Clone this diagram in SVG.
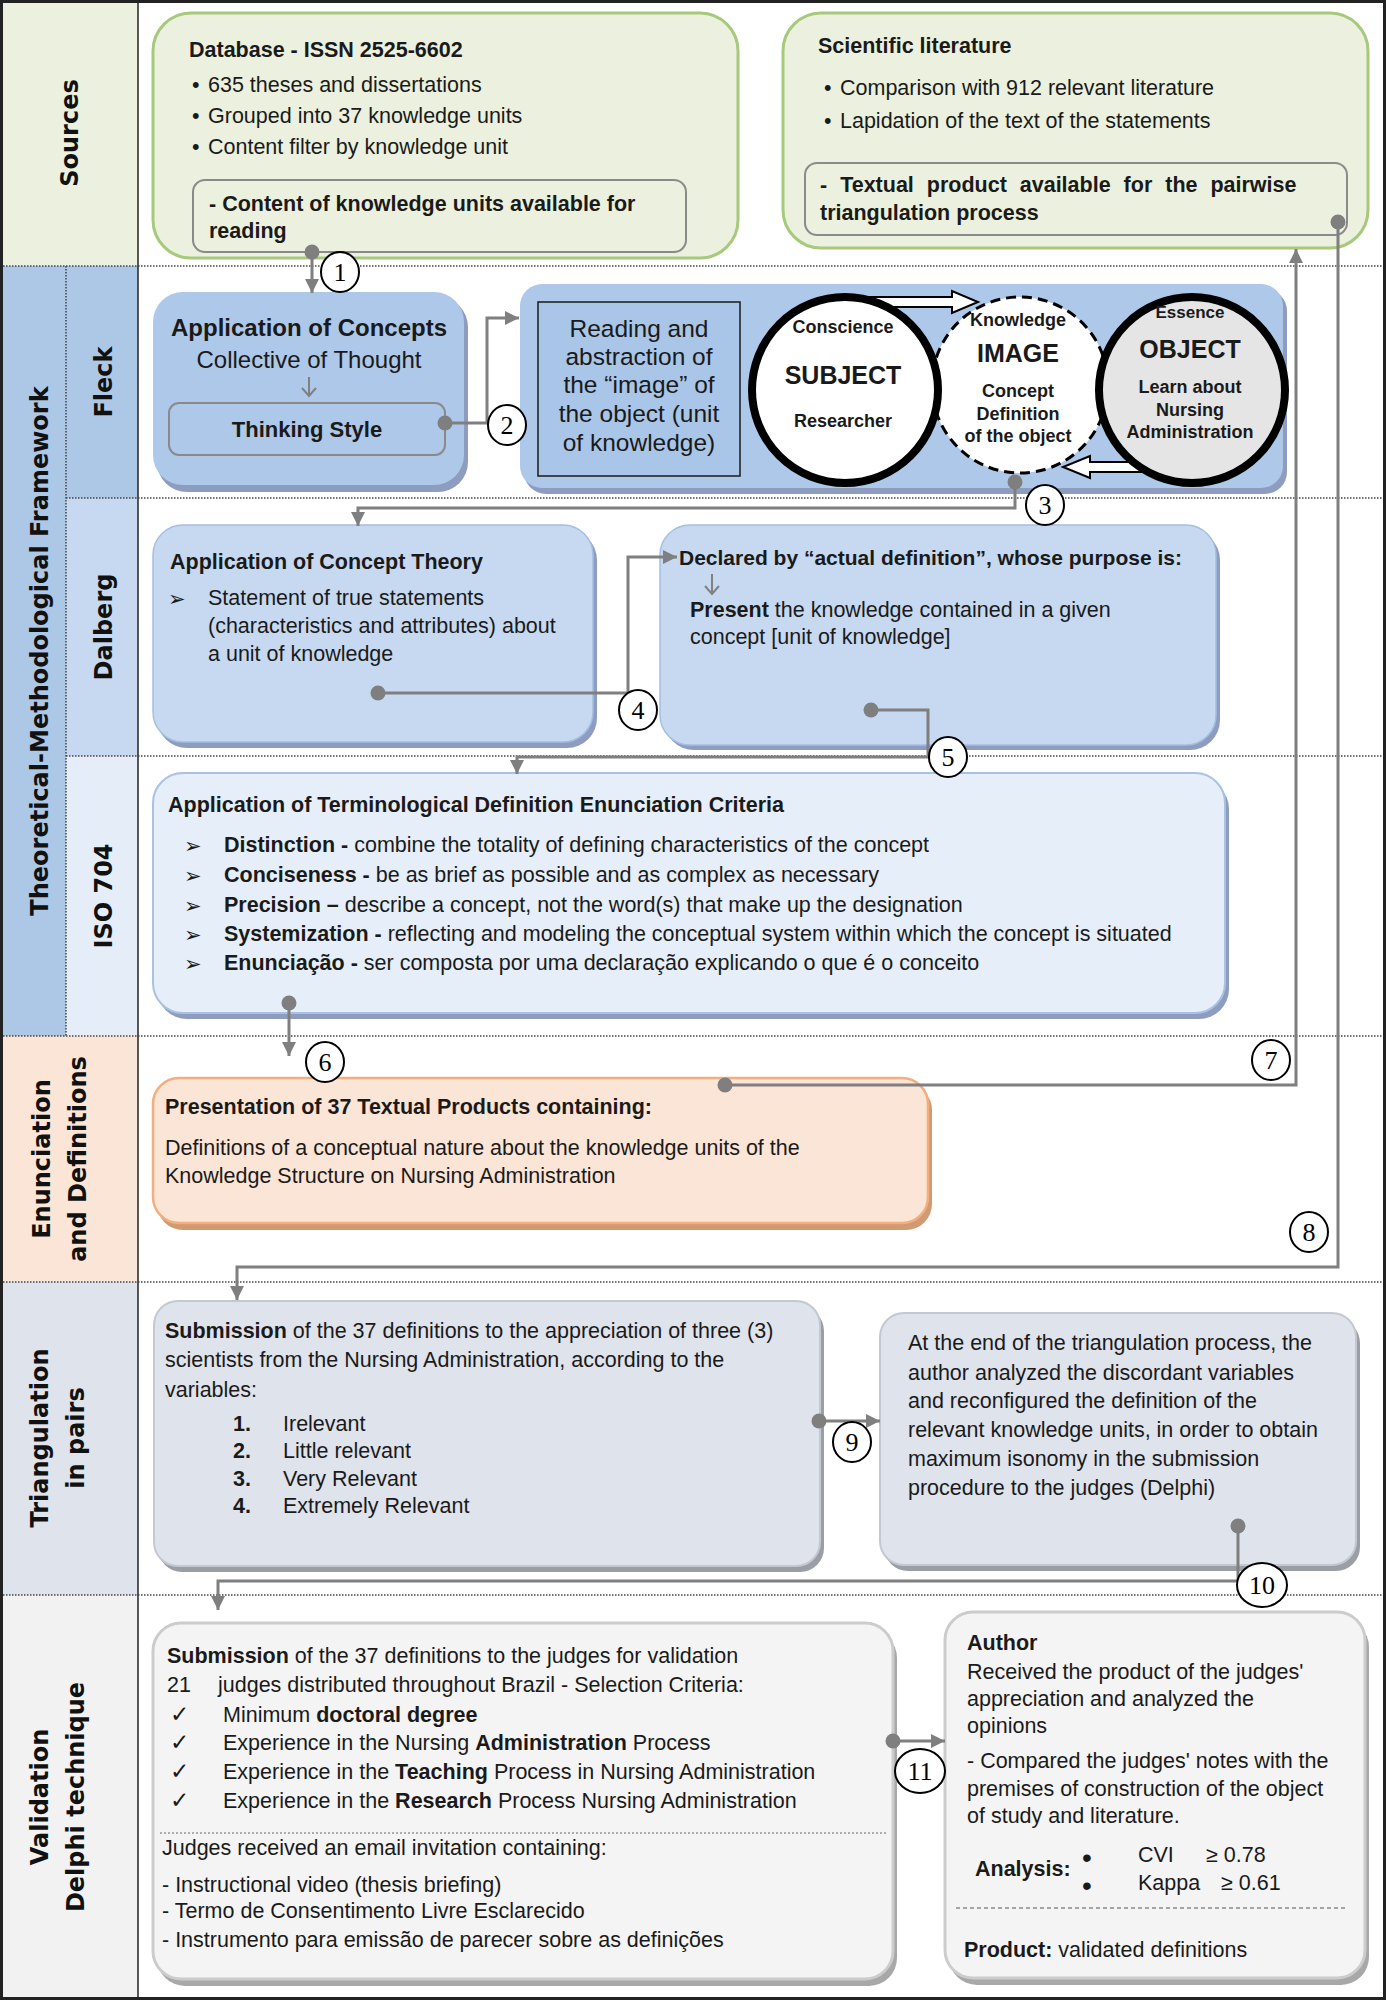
<svg xmlns="http://www.w3.org/2000/svg" width="1386" height="2000" viewBox="0 0 1386 2000">
<defs>
<style>
.t{font-family:"Liberation Sans",Arial,sans-serif;font-size:21.5px;fill:#1a1a1a}
.b{font-weight:bold}
.c{text-anchor:middle}
.lab{font-family:"DejaVu Sans",Verdana,sans-serif;font-weight:bold;font-size:24px;fill:#111;text-anchor:middle}
.num{font-family:"Liberation Serif","Times New Roman",serif;font-size:26px;text-anchor:middle;fill:#000}
.sym{font-family:"DejaVu Sans",sans-serif;fill:#1a1a1a}
.conn{fill:none;stroke:#7f7f7f;stroke-width:3}
.dot{fill:#7f7f7f}
.badge{fill:#fff;stroke:#000;stroke-width:2}
.div{stroke:#444;stroke-width:1.5;stroke-dasharray:1.5 1.5;fill:none}
.inner{fill:none;stroke:#8a8a8a;stroke-width:2}
.green{fill:#ebf1de;stroke:#a6c97c;stroke-width:3}
.fleck{fill:#adc8e9}
.fsh{fill:#8e9dbf}
.dal{fill:#c6d9f1;stroke:#a4bfe2;stroke-width:1.5}
.iso{fill:#e5eef9;stroke:#a8c2e4;stroke-width:2}
.enu{fill:#fbe5d6;stroke:#f3ae7e;stroke-width:2.5}
.esh{fill:#d19a72}
.tri{fill:#dfe3ec;stroke:#c4c8d0;stroke-width:2}
.tsh{fill:#9b9ea5}
.val{fill:#f4f4f4;stroke:#cccccc;stroke-width:3}
.vsh{fill:#a8a8a8}
.blk{fill:#fff;stroke:#000;stroke-width:2}
</style>
<marker id="ah" markerWidth="16" markerHeight="16" refX="14" refY="7" orient="auto" markerUnits="userSpaceOnUse"><path d="M0,0 L14,7 L0,14 z" fill="#7f7f7f"/></marker>
</defs>
<rect width="1386" height="2000" fill="#fff"/>

<!-- sidebar -->
<g id="sidebar">
<rect x="0" y="0" width="138" height="266" fill="#ebf1de"/>
<rect x="0" y="266" width="66" height="770" fill="#adc7e7"/>
<rect x="66" y="266" width="72" height="232" fill="#adc7e7"/>
<rect x="66" y="498" width="72" height="258" fill="#c6d9f1"/>
<rect x="66" y="756" width="72" height="280" fill="#e4edf8"/>
<rect x="0" y="1036" width="138" height="246" fill="#fbe5d6"/>
<rect x="0" y="1282" width="138" height="313" fill="#dfe3ec"/>
<rect x="0" y="1595" width="138" height="405" fill="#f2f2f2"/>
<text class="lab" transform="translate(78,133) rotate(-90)">Sources</text>
<text class="lab" transform="translate(48,651) rotate(-90)">Theoretical-Methodological Framework</text>
<text class="lab" transform="translate(112,382) rotate(-90)">Fleck</text>
<text class="lab" transform="translate(112,627) rotate(-90)">Dalberg</text>
<text class="lab" transform="translate(112,896) rotate(-90)">ISO 704</text>
<text class="lab" transform="translate(50,1159) rotate(-90)">Enunciation</text>
<text class="lab" transform="translate(86,1159) rotate(-90)">and Definitions</text>
<text class="lab" transform="translate(48,1438) rotate(-90)">Triangulation</text>
<text class="lab" transform="translate(84,1438) rotate(-90)">in pairs</text>
<text class="lab" transform="translate(48,1797) rotate(-90)">Validation</text>
<text class="lab" transform="translate(84,1797) rotate(-90)">Delphi technique</text>
</g>

<g id="grid">
<line x1="138" y1="0" x2="138" y2="2000" stroke="#222" stroke-width="1.5"/>
<line class="div" x1="66" y1="266" x2="66" y2="1036"/>
<line class="div" x1="0" y1="266" x2="1386" y2="266"/>
<line class="div" x1="66" y1="498" x2="1386" y2="498"/>
<line class="div" x1="66" y1="756" x2="1386" y2="756"/>
<line class="div" x1="0" y1="1036" x2="1386" y2="1036"/>
<line class="div" x1="0" y1="1282" x2="1386" y2="1282"/>
<line class="div" x1="0" y1="1595" x2="1386" y2="1595"/>
</g>

<!-- Sources -->
<g id="database">
<rect class="green" x="153" y="13" width="585" height="245" rx="38"/>
<text class="t b" x="189" y="57">Database - ISSN 2525-6602</text>
<text class="t" x="192" y="92">•</text><text class="t" x="208" y="92">635 theses and dissertations</text>
<text class="t" x="192" y="123">•</text><text class="t" x="208" y="123">Grouped into 37 knowledge units</text>
<text class="t" x="192" y="154">•</text><text class="t" x="208" y="154">Content filter by knowledge unit</text>
<rect class="inner" x="193" y="180" width="493" height="72" rx="12"/>
<text class="t b" x="209" y="211">- Content of knowledge units available for</text>
<text class="t b" x="209" y="238">reading</text>
</g>

<g id="literature">
<rect class="green" x="783" y="13" width="585" height="235" rx="38"/>
<text class="t b" x="818" y="53">Scientific literature</text>
<text class="t" x="824" y="95">•</text><text class="t" x="840" y="95">Comparison with 912 relevant literature</text>
<text class="t" x="824" y="128">•</text><text class="t" x="840" y="128">Lapidation of the text of the statements</text>
<rect class="inner" x="805" y="163" width="542" height="72" rx="12"/>
<text class="t b" x="820" y="192" word-spacing="7">- Textual product available for the pairwise</text>
<text class="t b" x="820" y="220">triangulation process</text>
</g>

<!-- Fleck -->
<g id="application-concepts">
<rect class="fsh" x="157" y="297" width="311" height="195" rx="30"/>
<rect class="fleck" x="153" y="292" width="311" height="193" rx="30"/>
<text class="t b c" x="309" y="336" style="font-size:24px">Application of Concepts</text>
<text class="t c" x="309" y="368" style="font-size:24px">Collective of Thought</text>
<path d="M309,377 V396 M302,388 L309,396 L316,388" fill="none" stroke="#808080" stroke-width="2"/>
<rect class="inner" x="169" y="403" width="276" height="52" rx="10"/>
<text class="t b c" x="307" y="437" style="font-size:22px">Thinking Style</text>
</g>

<g id="reading-box">
<rect class="fsh" x="524" y="289" width="763" height="205" rx="22"/>
<rect class="fleck" x="520" y="284" width="763" height="204" rx="22"/>
<rect x="538" y="302" width="202" height="174" fill="#a9c5e7" stroke="#1a1a1a" stroke-width="1.5"/>
<text class="t c" x="639" y="337" style="font-size:24.5px">Reading and</text>
<text class="t c" x="639" y="365" style="font-size:24.5px">abstraction of</text>
<text class="t c" x="639" y="393" style="font-size:24.5px">the “image” of</text>
<text class="t c" x="639" y="422" style="font-size:24.5px">the object (unit</text>
<text class="t c" x="639" y="451" style="font-size:24.5px">of knowledge)</text>
</g>

<g id="image-circle">
<circle cx="1020" cy="385" r="88" fill="#fff" stroke="#000" stroke-width="3" stroke-dasharray="10 6"/>
<text class="t b c" x="1018" y="326" style="font-size:18px">Knowledge</text>
<text class="t b c" x="1018" y="362" style="font-size:25px">IMAGE</text>
<text class="t b c" x="1018" y="397" style="font-size:18px">Concept</text>
<text class="t b c" x="1018" y="420" style="font-size:18px">Definition</text>
<text class="t b c" x="1018" y="442" style="font-size:18px">of the object</text>
</g>

<g id="block-arrows">
<path class="blk" d="M870,297 H952 V291 L978,302 L952,313 V307 H870 Z"/>
<path class="blk" d="M1160,462 H1090 V456 L1063,467 L1090,478 V472 H1160 Z"/>
</g>

<g id="subject-circle">
<circle cx="845" cy="390" r="93" fill="#fff" stroke="#000" stroke-width="8"/>
<text class="t b c" x="843" y="333" style="font-size:18px">Conscience</text>
<text class="t b c" x="843" y="384" style="font-size:25px">SUBJECT</text>
<text class="t b c" x="843" y="427" style="font-size:18px">Researcher</text>
</g>

<g id="object-circle">
<circle cx="1192" cy="390" r="93" fill="#e5e5e5" stroke="#000" stroke-width="8"/>
<text class="t b c" x="1190" y="318" style="font-size:17px">Essence</text>
<text class="t b c" x="1190" y="358" style="font-size:25px">OBJECT</text>
<text class="t b c" x="1190" y="393" style="font-size:18px">Learn about</text>
<text class="t b c" x="1190" y="416" style="font-size:18px">Nursing</text>
<text class="t b c" x="1190" y="438" style="font-size:18px">Administration</text>
</g>

<!-- Dalberg -->
<g id="concept-theory">
<rect class="fsh" x="157" y="530" width="440" height="218" rx="30"/>
<rect class="dal" x="153" y="525" width="440" height="217" rx="30"/>
<text class="t b" x="170" y="569">Application of Concept Theory</text>
<text class="sym" x="168" y="606" style="font-size:21px">➢</text>
<text class="t" x="208" y="605">Statement of true statements</text>
<text class="t" x="208" y="633">(characteristics and attributes) about</text>
<text class="t" x="208" y="661">a unit of knowledge</text>
</g>

<g id="actual-definition">
<rect class="fsh" x="664" y="530" width="556" height="220" rx="30"/>
<rect class="dal" x="660" y="525" width="556" height="220" rx="30"/>
<text class="t b" x="679" y="565" style="font-size:21px">Declared by “actual definition”, whose purpose is:</text>
<path d="M712,574 V594 M705,586 L712,594 L719,586" fill="none" stroke="#808080" stroke-width="2"/>
<text class="t" x="690" y="617"><tspan class="b">Present</tspan> the knowledge contained in a given</text>
<text class="t" x="690" y="644">concept [unit of knowledge]</text>
</g>

<!-- ISO 704 -->
<g id="iso-criteria">
<rect class="fsh" x="157" y="779" width="1072" height="240" rx="30"/>
<rect class="iso" x="153" y="773" width="1072" height="240" rx="30"/>
<text class="t b" x="168" y="812">Application of Terminological Definition Enunciation Criteria</text>
<text class="sym" x="184" y="853" style="font-size:21px">➢</text>
<text class="t" x="224" y="852"><tspan class="b">Distinction -</tspan> combine the totality of defining characteristics of the concept</text>
<text class="sym" x="184" y="883" style="font-size:21px">➢</text>
<text class="t" x="224" y="882"><tspan class="b">Conciseness -</tspan> be as brief as possible and as complex as necessary</text>
<text class="sym" x="184" y="913" style="font-size:21px">➢</text>
<text class="t" x="224" y="912"><tspan class="b">Precision –</tspan> describe a concept, not the word(s) that make up the designation</text>
<text class="sym" x="184" y="942" style="font-size:21px">➢</text>
<text class="t" x="224" y="941"><tspan class="b">Systemization -</tspan> reflecting and modeling the conceptual system within which the concept is situated</text>
<text class="sym" x="184" y="971" style="font-size:21px">➢</text>
<text class="t" x="224" y="970"><tspan class="b">Enunciação -</tspan> ser composta por uma declaração explicando o que é o conceito</text>
</g>

<!-- Enunciation -->
<g id="presentation">
<rect class="esh" x="157" y="1084" width="775" height="146" rx="26"/>
<rect class="enu" x="153" y="1078" width="775" height="145" rx="26"/>
<text class="t b" x="165" y="1114">Presentation of 37 Textual Products containing:</text>
<text class="t" x="165" y="1155">Definitions of a conceptual nature about the knowledge units of the</text>
<text class="t" x="165" y="1183">Knowledge Structure on Nursing Administration</text>
</g>

<!-- Triangulation -->
<g id="submission-pairs">
<rect class="tsh" x="158" y="1307" width="666" height="265" rx="24"/>
<rect class="tri" x="154" y="1301" width="666" height="265" rx="24"/>
<text class="t" x="165" y="1338"><tspan class="b">Submission</tspan> of the 37 definitions to the appreciation of three (3)</text>
<text class="t" x="165" y="1367">scientists from the Nursing Administration, according to the</text>
<text class="t" x="165" y="1397">variables:</text>
<text class="t b" x="233" y="1431">1.</text><text class="t" x="283" y="1431">Irelevant</text>
<text class="t b" x="233" y="1458">2.</text><text class="t" x="283" y="1458">Little relevant</text>
<text class="t b" x="233" y="1486">3.</text><text class="t" x="283" y="1486">Very Relevant</text>
<text class="t b" x="233" y="1513">4.</text><text class="t" x="283" y="1513">Extremely Relevant</text>
</g>

<g id="triangulation-end">
<rect class="tsh" x="884" y="1319" width="476" height="252" rx="24"/>
<rect class="tri" x="880" y="1313" width="476" height="252" rx="24"/>
<text class="t" x="908" y="1350">At the end of the triangulation process, the</text>
<text class="t" x="908" y="1380">author analyzed the discordant variables</text>
<text class="t" x="908" y="1408">and reconfigured the definition of the</text>
<text class="t" x="908" y="1437">relevant knowledge units, in order to obtain</text>
<text class="t" x="908" y="1466">maximum isonomy in the submission</text>
<text class="t" x="908" y="1495">procedure to the judges (Delphi)</text>
</g>

<!-- Validation -->
<g id="submission-judges">
<rect class="vsh" x="157" y="1630" width="740" height="356" rx="28"/>
<rect class="val" x="153" y="1623" width="740" height="356" rx="28"/>
<text class="t" x="167" y="1663"><tspan class="b">Submission</tspan> of the 37 definitions to the judges for validation</text>
<text class="t" x="167" y="1692">21</text><text class="t" x="218" y="1692">judges distributed throughout Brazil - Selection Criteria:</text>
<text class="sym" x="170" y="1722" style="font-size:23px">✓</text><text class="t" x="223" y="1722">Minimum <tspan class="b">doctoral degree</tspan></text>
<text class="sym" x="170" y="1750" style="font-size:23px">✓</text><text class="t" x="223" y="1750">Experience in the Nursing <tspan class="b">Administration</tspan> Process</text>
<text class="sym" x="170" y="1779" style="font-size:23px">✓</text><text class="t" x="223" y="1779">Experience in the <tspan class="b">Teaching</tspan> Process in Nursing Administration</text>
<text class="sym" x="170" y="1808" style="font-size:23px">✓</text><text class="t" x="223" y="1808">Experience in the <tspan class="b">Research</tspan> Process Nursing Administration</text>
<line x1="160" y1="1833" x2="888" y2="1833" stroke="#666" stroke-width="1.2" stroke-dasharray="2 2"/>
<text class="t" x="162" y="1855">Judges received an email invitation containing:</text>
<text class="t" x="162" y="1892">- Instructional video (thesis briefing)</text>
<text class="t" x="162" y="1918">- Termo de Consentimento Livre Esclarecido</text>
<text class="t" x="162" y="1947">- Instrumento para emissão de parecer sobre as definições</text>
</g>

<g id="author">
<rect class="vsh" x="949" y="1619" width="420" height="366" rx="28"/>
<rect class="val" x="945" y="1612" width="420" height="366" rx="28"/>
<text class="t b" x="967" y="1650">Author</text>
<text class="t" x="967" y="1679">Received the product of the judges'</text>
<text class="t" x="967" y="1706">appreciation and analyzed the</text>
<text class="t" x="967" y="1733">opinions</text>
<text class="t" x="967" y="1768">- Compared the judges' notes with the</text>
<text class="t" x="967" y="1796">premises of construction of the object</text>
<text class="t" x="967" y="1823">of study and literature.</text>
<text class="t b" x="975" y="1876">Analysis:</text>
<text class="t" x="1082" y="1867" style="font-size:28px">•</text><text class="t" x="1138" y="1862">CVI</text><text class="t" x="1206" y="1862">≥ 0.78</text>
<text class="t" x="1082" y="1895" style="font-size:28px">•</text><text class="t" x="1138" y="1890">Kappa</text><text class="t" x="1221" y="1890">≥ 0.61</text>
<line x1="956" y1="1908" x2="1347" y2="1908" stroke="#555" stroke-width="1.2" stroke-dasharray="4 3"/>
<text class="t" x="964" y="1957"><tspan class="b">Product:</tspan> validated definitions</text>
</g>

<!-- connectors -->
<g id="connectors">
<path class="conn" d="M312,252 V293" marker-end="url(#ah)"/>
<path class="conn" d="M445,423 H487 V318 H519" marker-end="url(#ah)"/>
<path class="conn" d="M1015,482 V508 H358 V526" marker-end="url(#ah)"/>
<path class="conn" d="M378,693 H628 V557 H677" marker-end="url(#ah)"/>
<path class="conn" d="M871,710 H928 V757 H517 V774" marker-end="url(#ah)"/>
<path class="conn" d="M289,1003 V1056" marker-end="url(#ah)"/>
<path class="conn" d="M725,1085 H1296 V249" marker-end="url(#ah)"/>
<path class="conn" d="M1338,222 V1267 H237 V1300" marker-end="url(#ah)"/>
<path class="conn" d="M819,1421 H880" marker-end="url(#ah)"/>
<path class="conn" d="M1238,1526 V1581 H218 V1610" marker-end="url(#ah)"/>
<path class="conn" d="M893,1741 H945" marker-end="url(#ah)"/>
<circle class="dot" cx="312" cy="252" r="7.5"/>
<circle class="dot" cx="445" cy="423" r="7.5"/>
<circle class="dot" cx="1015" cy="482" r="7.5"/>
<circle class="dot" cx="378" cy="693" r="7.5"/>
<circle class="dot" cx="871" cy="710" r="7.5"/>
<circle class="dot" cx="289" cy="1003" r="7.5"/>
<circle class="dot" cx="725" cy="1085" r="7.5"/>
<circle class="dot" cx="1338" cy="222" r="7.5"/>
<circle class="dot" cx="819" cy="1421" r="7.5"/>
<circle class="dot" cx="1238" cy="1526" r="7.5"/>
<circle class="dot" cx="893" cy="1741" r="7.5"/>
</g>

<g id="badges">
<ellipse class="badge" cx="340" cy="272" rx="19" ry="20"/><text class="num" x="340" y="281">1</text>
<ellipse class="badge" cx="507" cy="425" rx="19" ry="20"/><text class="num" x="507" y="434">2</text>
<ellipse class="badge" cx="1045" cy="505" rx="19" ry="20"/><text class="num" x="1045" y="514">3</text>
<ellipse class="badge" cx="638" cy="710" rx="19" ry="20"/><text class="num" x="638" y="719">4</text>
<ellipse class="badge" cx="948" cy="757" rx="19" ry="20"/><text class="num" x="948" y="766">5</text>
<ellipse class="badge" cx="325" cy="1062" rx="19" ry="20"/><text class="num" x="325" y="1071">6</text>
<ellipse class="badge" cx="1271" cy="1060" rx="19" ry="20"/><text class="num" x="1271" y="1069">7</text>
<ellipse class="badge" cx="1309" cy="1232" rx="19" ry="20"/><text class="num" x="1309" y="1241">8</text>
<ellipse class="badge" cx="852" cy="1442" rx="19" ry="20"/><text class="num" x="852" y="1451">9</text>
<ellipse class="badge" cx="1262" cy="1585" rx="25" ry="22"/><text class="num" x="1262" y="1594">10</text>
<ellipse class="badge" cx="920" cy="1771" rx="25" ry="22"/><text class="num" x="920" y="1780">11</text>
</g>

<rect x="1.5" y="1.5" width="1383" height="1997" fill="none" stroke="#222" stroke-width="3"/>
</svg>
